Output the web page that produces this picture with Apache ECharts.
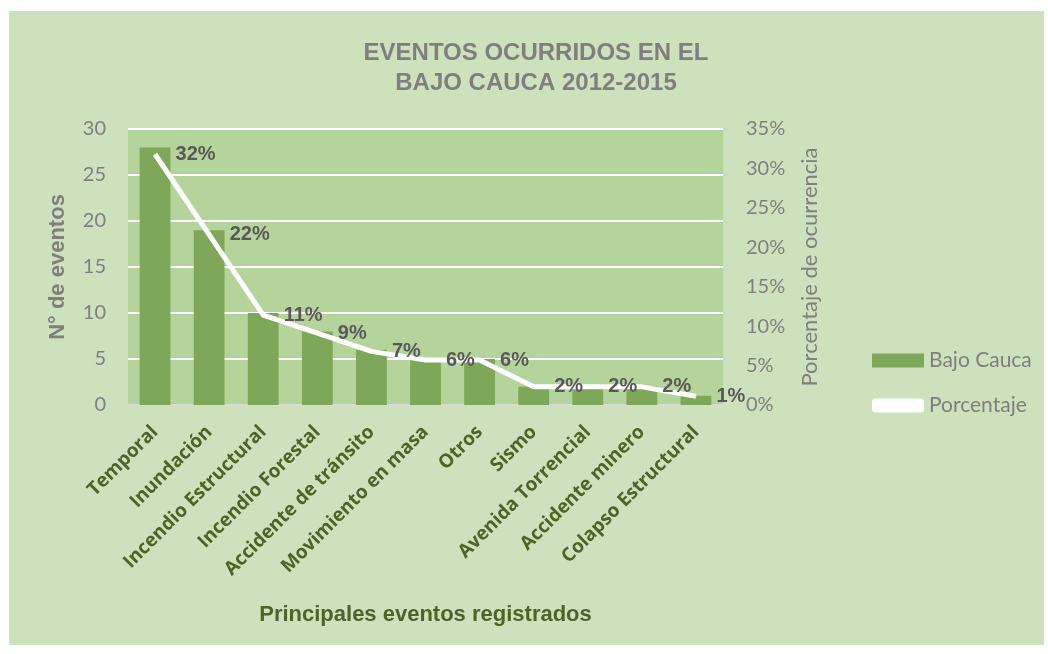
<!DOCTYPE html>
<html>
<head>
<meta charset="utf-8">
<script src="https://cdn.jsdelivr.net/npm/echarts@6/dist/echarts.min.js"></script>
<style>
  html, body { margin: 0; padding: 0; background: #ffffff; }
  #main { position: absolute; left: 9px; top: 11px; width: 1035px; height: 634px; }
</style>
</head>
<body>
<div id="main"></div>
<script>
// datos
var categorias = ['Temporal', 'Inundación', 'Incendio Estructural', 'Incendio Forestal',
  'Accidente de tránsito', 'Movimiento en masa', 'Otros', 'Sismo',
  'Avenida Torrencial', 'Accidente minero', 'Colapso Estructural'];
var eventos = [28, 19, 10, 8, 6, 5, 5, 2, 2, 2, 1];
var porcentaje = [31.8, 21.6, 11.4, 9.1, 6.8, 5.7, 5.7, 2.3, 2.3, 2.3, 1.1];
var ticksEventos = [0, 5, 10, 15, 20, 25, 30];
var ticksPorcentaje = [0, 5, 10, 15, 20, 25, 30, 35];

var narrow = '"Liberation Sans Narrow", "Liberation Sans", Arial, sans-serif';
var calibri = 'Lato, "Open Sans", sans-serif';

var dom = document.getElementById('main');
var myChart = echarts.init(dom);

var option = {
  backgroundColor: '#cde2bc',
  animation: false,
  title: {
    text: 'EVENTOS OCURRIDOS EN EL\nBAJO CAUCA 2012-2015',
    left: 522,
    textAlign: 'center',
    top: 22,
    textStyle: {
      fontFamily: narrow,
      fontSize: 24,
      fontWeight: 'bold',
      color: '#7f7f7f',
      lineHeight: 30
    }
  },
  legend: {
    orient: 'vertical',
    left: 858,
    top: 334,
    itemWidth: 52,
    itemHeight: 14,
    itemGap: 24,
    textStyle: { fontFamily: calibri, fontSize: 21, color: '#7f7f7f' },
    data: [
      { name: 'Bajo Cauca', icon: 'rect' },
      { name: 'Porcentaje', icon: 'roundRect' }
    ]
  },
  grid: {
    left: 119,
    right: 321,
    top: 118,
    bottom: 240,
    show: true,
    backgroundColor: '#b5d49c',
    borderWidth: 0
  },
  xAxis: {
    type: 'category',
    data: categorias,
    axisTick: { show: false },
    axisLine: { lineStyle: { color: '#d9d9d9', width: 2 } },
    axisLabel: {
      rotate: 45,
      interval: 0,
      margin: 24,
      fontFamily: '"Open Sans", Lato, sans-serif',
      fontSize: 19,
      fontWeight: 'bold',
      color: '#4f6228'
    },
    name: 'Principales eventos registrados',
    nameLocation: 'middle',
    nameGap: 199,
    nameTextStyle: { fontFamily: narrow, fontSize: 22, fontWeight: 'bold', color: '#4f6228' }
  },
  yAxis: [{
    type: 'value',
    min: ticksEventos[0],
    max: ticksEventos[ticksEventos.length - 1],
    interval: 5,
    axisLine: { show: false },
    axisTick: { show: false },
    splitLine: { lineStyle: { color: '#ffffff', width: 2 } },
    axisLabel: { margin: 22, fontFamily: calibri, fontSize: 20, color: '#7f7f7f' },
    name: 'N° de eventos',
    nameLocation: 'middle',
    nameRotate: 90,
    nameGap: 59,
    nameTextStyle: { fontFamily: narrow, fontSize: 22, fontWeight: 'bold', color: '#7f7f7f' }
  }, {
    type: 'value',
    position: 'right',
    min: ticksPorcentaje[0],
    max: ticksPorcentaje[ticksPorcentaje.length - 1],
    interval: 5,
    axisLine: { show: false },
    axisTick: { show: false },
    splitLine: { show: false },
    axisLabel: { margin: 23, fontFamily: calibri, fontSize: 20, color: '#7f7f7f', formatter: '{value}%' },
    name: 'Porcentaje de ocurrencia',
    nameLocation: 'middle',
    nameRotate: 90,
    nameGap: 76,
    nameTextStyle: { fontFamily: calibri, fontSize: 22, color: '#7f7f7f' }
  }],
  series: [{
    name: 'Bajo Cauca',
    type: 'bar',
    data: eventos,
    barWidth: '57%',
    itemStyle: { color: '#7fa75a' }
  }, {
    name: 'Porcentaje',
    type: 'line',
    yAxisIndex: 1,
    data: porcentaje,
    symbol: 'circle',
    symbolSize: 1,
    showSymbol: true,
    lineStyle: { color: '#ffffff', width: 5 },
    itemStyle: { color: '#ffffff' },
    label: {
      show: true,
      position: 'right',
      distance: 20,
      fontFamily: narrow,
      fontSize: 20,
      fontWeight: 'bold',
      color: '#595959',
      formatter: function (p) { return Math.round(p.value) + '%'; }
    }
  }]
};

myChart.setOption(option);
</script>
</body>
</html>
